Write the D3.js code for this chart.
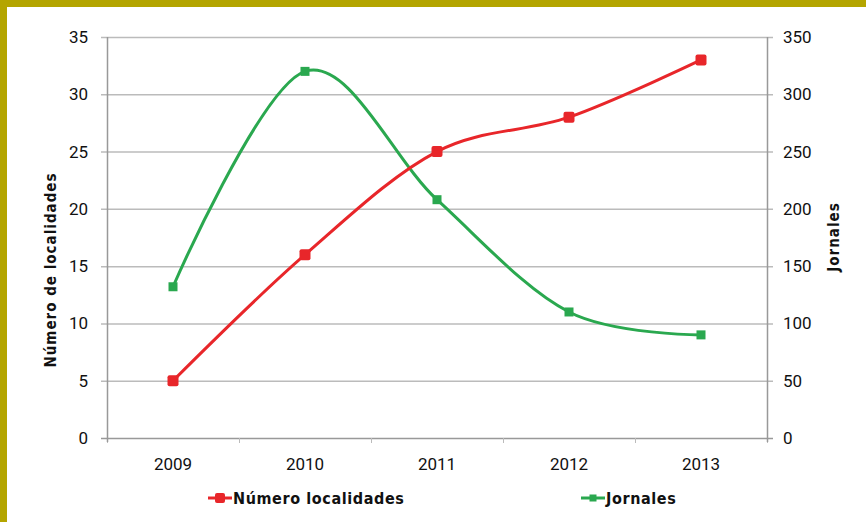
<!DOCTYPE html>
<html lang="es">
<head>
<meta charset="utf-8">
<title>Localidades y jornales</title>
<script src="https://d3js.org/d3.v7.min.js"></script>
<style>
body { margin: 0; background: #fff; }
svg { display: block; }
text { font-family: "Liberation Sans Narrow", "DejaVu Sans Condensed", sans-serif; fill: #111; }
text.tick { font-family: Roboto, "Liberation Sans", sans-serif; font-size: 17px; }
</style>
</head>
<body>
<script>
var years = ["2009", "2010", "2011", "2012", "2013"];
var localidades = [5, 16, 25, 28, 33];
var jornales = [132, 320, 208, 110, 90];
var leftTicks = [0, 5, 10, 15, 20, 25, 30, 35];
var rightTicks = [0, 50, 100, 150, 200, 250, 300, 350];

var width = 866, height = 522;
var m = {left: 107, right: 99, top: 37, bottom: 84};

var svg = d3.select("body").append("svg")
    .attr("width", width)
    .attr("height", height);

// olive frame on top and left
svg.append("rect").attr("x", 0).attr("y", 0).attr("width", width).attr("height", 7).attr("fill", "#b4a500");
svg.append("rect").attr("x", 0).attr("y", 0).attr("width", 7).attr("height", height).attr("fill", "#b4a500");

var x = d3.scaleBand().domain(years).range([m.left, width - m.right]);
var yL = d3.scaleLinear().domain([0, 35]).range([height - m.bottom, m.top]);
var yR = d3.scaleLinear().domain([0, 350]).range([height - m.bottom, m.top]);

// gridlines
svg.append("g").selectAll("line")
    .data(leftTicks)
    .enter().append("line")
    .attr("x1", m.left - 6)
    .attr("x2", width - m.right + 6)
    .attr("y1", function(d) { return yL(d) + 0.5; })
    .attr("y2", function(d) { return yL(d) + 0.5; })
    .attr("stroke", function(d) { return d === 0 ? "#999" : "#bbb"; })
    .attr("stroke-width", 1.5);

// x-axis tick marks
svg.append("g").selectAll("line")
    .data(years.concat(["end"]))
    .enter().append("line")
    .attr("x1", function(d, i) { return m.left + i * x.bandwidth() + 0.5; })
    .attr("x2", function(d, i) { return m.left + i * x.bandwidth() + 0.5; })
    .attr("y1", height - m.bottom)
    .attr("y2", height - m.bottom + 5)
    .attr("stroke", "#bbb");

// vertical axes
svg.append("line").attr("x1", m.left + 0.5).attr("x2", m.left + 0.5)
    .attr("y1", m.top).attr("y2", height - m.bottom + 4)
    .attr("stroke", "#999").attr("stroke-width", 1.5);
svg.append("line").attr("x1", width - m.right + 0.5).attr("x2", width - m.right + 0.5)
    .attr("y1", m.top).attr("y2", height - m.bottom + 4)
    .attr("stroke", "#999").attr("stroke-width", 1.5);

// tick labels
svg.append("g").selectAll("text")
    .data(leftTicks)
    .enter().append("text")
    .attr("class", "tick")
    .attr("x", 88)
    .attr("y", function(d) { return yL(d); })
    .attr("dy", "0.35em")
    .attr("text-anchor", "end")
    .text(function(d) { return d; });

svg.append("g").selectAll("text")
    .data(rightTicks)
    .enter().append("text")
    .attr("class", "tick")
    .attr("x", 783)
    .attr("y", function(d) { return yR(d); })
    .attr("dy", "0.35em")
    .text(function(d) { return d; });

svg.append("g").selectAll("text")
    .data(years)
    .enter().append("text")
    .attr("class", "tick")
    .attr("x", function(d) { return x(d) + x.bandwidth() / 2; })
    .attr("y", 470)
    .attr("text-anchor", "middle")
    .text(function(d) { return d; });

// axis titles
svg.append("text")
    .attr("transform", "translate(56,270) rotate(-90)")
    .attr("text-anchor", "middle")
    .style("font-size", "15px")
    .style("font-weight", "bold")
    .style("letter-spacing", "1px")
    .text("Número de localidades");

svg.append("text")
    .attr("transform", "translate(839,237) rotate(-90)")
    .attr("text-anchor", "middle")
    .style("font-size", "15px")
    .style("font-weight", "bold")
    .style("letter-spacing", "1px")
    .text("Jornales");

var cx = function(i) { return x(years[i]) + x.bandwidth() / 2; };

var lineL = d3.line()
    .x(function(d, i) { return cx(i); })
    .y(function(d) { return yL(d); })
    .curve(d3.curveCardinal.tension(0));

var lineR = d3.line()
    .x(function(d, i) { return cx(i); })
    .y(function(d) { return yR(d); })
    .curve(d3.curveCardinal.tension(0));

var red = "#e8262a", green = "#2aa84f";

svg.append("path").datum(jornales).attr("d", lineR)
    .attr("fill", "none").attr("stroke", green).attr("stroke-width", 3);
svg.append("path").datum(localidades).attr("d", lineL)
    .attr("fill", "none").attr("stroke", red).attr("stroke-width", 3);

svg.append("g").selectAll("rect")
    .data(jornales)
    .enter().append("rect")
    .attr("x", function(d, i) { return cx(i) - 4.5; })
    .attr("y", function(d) { return yR(d) - 4.5; })
    .attr("width", 9).attr("height", 9)
    .attr("fill", green);

svg.append("g").selectAll("rect")
    .data(localidades)
    .enter().append("rect")
    .attr("x", function(d, i) { return cx(i) - 5.5; })
    .attr("y", function(d) { return yL(d) - 5.5; })
    .attr("width", 11).attr("height", 11)
    .attr("rx", 2)
    .attr("fill", red);

// legend
var legend = [
    {name: "Número localidades", color: red, x: 208, size: 10, r: 2},
    {name: "Jornales", color: green, x: 581, size: 7, r: 0}
];
var lg = svg.append("g").selectAll("g")
    .data(legend)
    .enter().append("g")
    .attr("transform", function(d) { return "translate(" + d.x + ",498)"; });
lg.append("line")
    .attr("x1", 0).attr("x2", 24)
    .attr("stroke", function(d) { return d.color; })
    .attr("stroke-width", 3);
lg.append("rect")
    .attr("x", function(d) { return 12 - d.size / 2; })
    .attr("y", function(d) { return -d.size / 2; })
    .attr("width", function(d) { return d.size; })
    .attr("height", function(d) { return d.size; })
    .attr("rx", function(d) { return d.r; })
    .attr("fill", function(d) { return d.color; });
lg.append("text")
    .attr("x", 25)
    .attr("dy", "0.35em")
    .style("font-size", "16px")
    .style("font-weight", "bold")
    .style("letter-spacing", "0.6px")
    .text(function(d) { return d.name; });
</script>
</body>
</html>
